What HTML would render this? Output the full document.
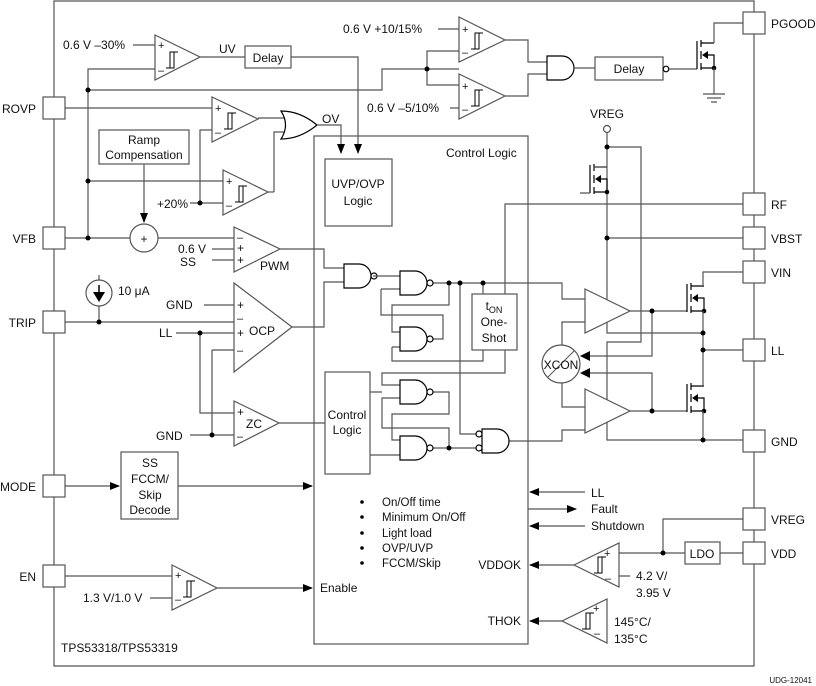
<!DOCTYPE html>
<html><head><meta charset="utf-8"><style>
html,body{margin:0;padding:0;background:#fff;}
svg{display:block;font-family:"Liberation Sans",sans-serif;font-size:12px;}
.w{stroke:#555;stroke-width:1.2;fill:none}
.g{stroke:#000;stroke-width:1.2;fill:#fff}
.b{stroke:#555;stroke-width:1.2;fill:#fff}
text{fill:#111}
</style></head><body>
<svg width="816" height="686" viewBox="0 0 816 686" xmlns="http://www.w3.org/2000/svg">
<defs>
<g id="hyst"><path d="M-6 8 H-2 V-8 H2 M-2 8 H2 V-8 H6" stroke="#000" stroke-width="1" fill="none"/></g>
<g id="hystl"><path d="M6 -8 H2 V8 H-2 M2 -8 H-2 V8 H-6" stroke="#000" stroke-width="1" fill="none"/></g>
<g id="nmos">
<path d="M0 0 V28 M4 -1 V6 M4 10 V18 M4 22 V29 M4 2 H17 M4 27 H17 M11 14 H17 V27" stroke="#000" stroke-width="1.2" fill="none"/>
<polygon points="5,14 11,10 11,18" fill="#000"/>
<circle cx="17" cy="27" r="2.3" fill="#000"/>
</g>
<g id="nand"><path d="M0 0 H15 A12 12 0 0 1 15 24 H0 Z" class="g"/><circle cx="30" cy="12" r="3" class="g"/></g>
<g id="and"><path d="M0 0 H15 A12 12 0 0 1 15 24 H0 Z" class="g"/></g>
<marker id="ar" markerWidth="10" markerHeight="8" refX="9" refY="4" orient="auto" markerUnits="userSpaceOnUse"><path d="M0 0 L10 4 L0 8 Z" fill="#000"/></marker>
</defs>

<!-- outer boundary -->
<path class="w" d="M54 1 H754 V666 H54 Z"/>

<!-- pins left -->
<rect class="b" x="43" y="97" width="22" height="22"/>
<rect class="b" x="43" y="227" width="22" height="22"/>
<rect class="b" x="43" y="311" width="22" height="22"/>
<rect class="b" x="43" y="475" width="22" height="22"/>
<rect class="b" x="43" y="565" width="22" height="22"/>
<text x="36" y="113" text-anchor="end">ROVP</text>
<text x="36" y="243" text-anchor="end">VFB</text>
<text x="36" y="327" text-anchor="end">TRIP</text>
<text x="36" y="491" text-anchor="end">MODE</text>
<text x="36" y="581" text-anchor="end">EN</text>
<!-- pins right -->
<rect class="b" x="743" y="12" width="22" height="22"/>
<rect class="b" x="743" y="193" width="22" height="22"/>
<rect class="b" x="743" y="227" width="22" height="22"/>
<rect class="b" x="743" y="261" width="22" height="22"/>
<rect class="b" x="743" y="339" width="22" height="22"/>
<rect class="b" x="743" y="430" width="22" height="22"/>
<rect class="b" x="743" y="508" width="22" height="22"/>
<rect class="b" x="743" y="542" width="22" height="22"/>
<text x="771" y="28">PGOOD</text>
<text x="771" y="209">RF</text>
<text x="771" y="243">VBST</text>
<text x="771" y="277">VIN</text>
<text x="771" y="355">LL</text>
<text x="771" y="446">GND</text>
<text x="771" y="524">VREG</text>
<text x="771" y="558">VDD</text>

<!-- Control logic box -->
<rect class="b" x="314" y="136" width="214" height="508"/>
<text x="446" y="157">Control Logic</text>
<rect class="b" x="325" y="159" width="67" height="67"/>
<text x="358" y="188" text-anchor="middle">UVP/OVP</text>
<text x="358" y="205" text-anchor="middle">Logic</text>

<!-- UV comparator -->
<path class="w" d="M133 45 H155 M88 238 V69 H155"/>
<path class="b" d="M155 35 L200 57 L155 80 Z"/>
<text x="158" y="49" font-size="11">+</text><text x="158" y="74" font-size="11">–</text>
<use href="#hyst" x="172" y="60"/>
<text x="63" y="49">0.6 V –30%</text>
<path class="w" d="M200 57 H245"/>
<text x="219" y="53">UV</text>
<rect class="b" x="245" y="46" width="46" height="22"/>
<text x="268" y="62" text-anchor="middle">Delay</text>
<path class="w" d="M291 57 H358 V153" marker-end="url(#ar)"/>

<!-- VFB rail to PGOOD comps -->
<path class="w" d="M88 90 H382 V69 H459"/>
<circle cx="88" cy="90" r="2.5"/>
<path class="w" d="M427 69 V51 H459 M427 69 V85 H459"/>
<circle cx="427" cy="69" r="2.5"/>
<path class="b" d="M459 17 L505 40 L459 62 Z"/>
<path class="b" d="M459 74 L505 96 L459 119 Z"/>
<text x="462" y="33" font-size="11">+</text><text x="462" y="56" font-size="11">–</text>
<text x="462" y="90" font-size="11">+</text><text x="462" y="113" font-size="11">–</text>
<use href="#hyst" x="477" y="41"/><use href="#hyst" x="477" y="98"/>
<path class="w" d="M438 29 H459 M450 108 H459"/>
<text x="343" y="33">0.6 V +10/15%</text>
<text x="367" y="112">0.6 V –5/10%</text>
<path class="w" d="M505 40 H528 V62 H547 M505 96 H528 V74 H547"/>
<use href="#and" x="547" y="56"/>
<path class="w" d="M574 68 H595"/>
<rect class="b" x="595" y="57" width="68" height="23"/>
<text x="629" y="73" text-anchor="middle">Delay</text>
<circle cx="666" cy="69" r="2.8" class="g"/>
<path class="w" d="M669 69 H697"/>
<use href="#nmos" x="697" y="41"/>
<path class="w" d="M714 43 V23 H743 M714 68 V94 M703 94 H725 M707 98 H721 M711 102 H717"/>

<!-- ROVP comparator -->
<path class="w" d="M65 108 H212"/>
<path class="b" d="M212 97 L258 119 L212 142 Z"/>
<text x="215" y="112" font-size="11">+</text><text x="215" y="136" font-size="11">–</text>
<use href="#hyst" x="230" y="121"/>
<path class="w" d="M200 203 V130 H212"/>
<path class="w" d="M258 118 H284 M274 192 V132 H284"/>
<path d="M281 111 Q300 111 317 125 Q300 139 281 139 Q290 125 281 111 Z" class="g"/>
<path class="w" d="M317 125 H341 V153" marker-end="url(#ar)"/>
<text x="322" y="123">OV</text>

<!-- +20% comparator -->
<path class="w" d="M88 181 H223 M190 203 H223"/>
<circle cx="88" cy="181" r="2.5"/><circle cx="200" cy="203" r="2.5"/>
<path class="b" d="M223 170 L268 192 L223 215 Z"/>
<text x="226" y="185" font-size="11">+</text><text x="226" y="209" font-size="11">–</text>
<use href="#hyst" x="241" y="194"/>
<path class="w" d="M268 192 H274"/>
<text x="157" y="208">+20%</text>

<!-- Ramp comp & summer -->
<rect class="b" x="99" y="130" width="90" height="34"/>
<text x="144" y="144" text-anchor="middle">Ramp</text>
<text x="144" y="159" text-anchor="middle">Compensation</text>
<path class="w" d="M144 164 V222" marker-end="url(#ar)"/>
<path class="w" d="M65 238 H130 M158 238 H234"/>
<circle cx="88" cy="238" r="2.5"/>
<circle cx="144" cy="238" r="14" class="b"/>
<text x="144" y="243" text-anchor="middle">+</text>

<!-- PWM -->
<path class="b" d="M234 227 L280 249 L234 272 Z"/>
<text x="237" y="241" font-size="11">–</text><text x="237" y="252" font-size="12">+</text><text x="237" y="264" font-size="12">+</text>
<path class="w" d="M212 249 H234 M212 260 H234"/>
<text x="206" y="253" text-anchor="end">0.6 V</text>
<text x="196" y="266" text-anchor="end">SS</text>
<text x="260" y="270">PWM</text>
<path class="w" d="M280 249 H324 V268 H344 M292 327 H324 V282 H344"/>
<use href="#nand" x="344" y="264"/>

<!-- 10uA source -->
<path class="w" d="M99 275 V280 M99 306 V322"/>
<circle cx="99" cy="293" r="13" class="b"/>
<path d="M99 285 V292" stroke="#000" stroke-width="1.5"/><polygon points="93,292 105,292 99,302" fill="#000"/>
<text x="118" y="295">10 μA</text>

<!-- OCP -->
<path class="w" d="M65 322 H234 M204 305 H234 M176 333 H234 M212 350 H234 M200 333 V413 H234 M212 350 V435"/>
<circle cx="99" cy="322" r="2.5"/><circle cx="200" cy="333" r="2.5"/>
<text x="166" y="309">GND</text>
<text x="159" y="337">LL</text>
<path class="b" d="M234 283 L292 327 L234 372 Z"/>
<text x="237" y="309" font-size="12">+</text><text x="237" y="322" font-size="11">–</text><text x="237" y="337">+</text><text x="237" y="354" font-size="11">–</text>
<text x="249" y="335">OCP</text>

<!-- ZC -->
<path class="w" d="M190 435 H234"/>
<circle cx="212" cy="435" r="2.5"/>
<text x="156" y="440">GND</text>
<path class="b" d="M234 401 L279 423 L234 446 Z"/>
<text x="237" y="416" font-size="12">+</text><text x="237" y="440" font-size="11">–</text>
<text x="246" y="428">ZC</text>
<path class="w" d="M279 423 H325"/>
<rect class="b" x="325" y="372" width="45" height="102"/>
<text x="347" y="419" text-anchor="middle">Control</text>
<text x="347" y="434" text-anchor="middle">Logic</text>

<!-- MODE -->
<path class="w" d="M65 486 H119" marker-end="url(#ar)"/>
<rect class="b" x="121" y="452" width="57" height="67"/>
<text x="150" y="467" text-anchor="middle">SS</text>
<text x="150" y="483" text-anchor="middle">FCCM/</text>
<text x="150" y="499" text-anchor="middle">Skip</text>
<text x="150" y="514" text-anchor="middle">Decode</text>
<path class="w" d="M178 486 H312" marker-end="url(#ar)"/>

<!-- EN -->
<path class="w" d="M65 576 H172 M150 598 H172"/>
<path class="b" d="M172 565 L217 588 L172 610 Z"/>
<text x="175" y="579" font-size="11">+</text><text x="175" y="603" font-size="11">–</text>
<use href="#hyst" x="189" y="589"/>
<text x="83" y="602">1.3 V/1.0 V</text>
<path class="w" d="M217 588 H312" marker-end="url(#ar)"/>
<text x="320" y="592">Enable</text>
<text x="61" y="652">TPS53318/TPS53319</text>

<!-- bullets -->
<g font-size="11.5">
<circle cx="362" cy="502" r="1.8"/><text x="382" y="506">On/Off time</text>
<circle cx="362" cy="517" r="1.8"/><text x="382" y="521">Minimum On/Off</text>
<circle cx="362" cy="533" r="1.8"/><text x="382" y="537">Light load</text>
<circle cx="362" cy="548" r="1.8"/><text x="382" y="552">OVP/UVP</text>
<circle cx="362" cy="563" r="1.8"/><text x="382" y="567">FCCM/Skip</text>
</g>

<!-- right of control logic signals -->
<path class="w" d="M585 492 H530" marker-end="url(#ar)"/><text x="591" y="497">LL</text>
<path class="w" d="M528 509 H576" marker-end="url(#ar)"/><text x="591" y="513">Fault</text>
<path class="w" d="M585 526 H530" marker-end="url(#ar)"/><text x="591" y="530">Shutdown</text>
<text x="521" y="569" text-anchor="end">VDDOK</text>
<path class="w" d="M574 565 H530" marker-end="url(#ar)"/>
<path class="b" d="M574 565 L619 543 L619 587 Z"/>
<text x="604" y="557" font-size="11">+</text><text x="605" y="582" font-size="11">–</text>
<use href="#hystl" x="600" y="565"/>
<path class="w" d="M619 553 H685 M720 553 H743 M663 553 V519 H743 M619 576 H630"/>
<circle cx="663" cy="553" r="2.5"/>
<rect class="b" x="685" y="542" width="35" height="22"/>
<text x="702" y="558" text-anchor="middle">LDO</text>
<text x="636" y="580">4.2 V/</text><text x="636" y="597">3.95 V</text>
<text x="521" y="625" text-anchor="end">THOK</text>
<path class="w" d="M562 621 H530" marker-end="url(#ar)"/>
<path class="b" d="M562 621 L607 599 L607 643 Z"/>
<text x="593" y="612" font-size="11">+</text><text x="594" y="637" font-size="11">–</text>
<use href="#hystl" x="588" y="621"/>
<text x="614" y="626">145°C/</text><text x="614" y="643">135°C</text>

<!-- VREG mosfet -->
<text x="607" y="118" text-anchor="middle">VREG</text>
<circle cx="607" cy="129" r="3.5" class="b"/>
<path class="w" d="M607 133 V333 H703 M607 147 H641 V342 H607 V440 H743 M607 238 H743 M743 204 H505 V294"/>
<circle cx="607" cy="147" r="2.5"/><circle cx="607" cy="238" r="2.5"/>
<use href="#nmos" x="590" y="165"/>
<path class="w" d="M590 193 H580 M594 167 H607"/>

<!-- gates -->
<path class="w" d="M373 276 H400 M381 289 H400 M381 289 V315 H443 V339 H433 M433 283 H562 V299 H585 M449 283 V305 H392 V332 H400 M392 347 H400 M392 347 V361 H483 V350 M483 283 V294 M505 350 V373 H382 V385 H400 M370 392 H382 M370 455 H400 M433 392 H449 V414 H392 V440 H400 M433 448 H476 M449 448 V428 H382 V398 H400 M460 283 V434 H476 M509 441 H562 V430 H585"/>
<use href="#nand" x="400" y="271"/>
<use href="#nand" x="400" y="327"/>
<use href="#nand" x="400" y="380"/>
<use href="#nand" x="400" y="436"/>
<circle cx="449" cy="283" r="2.5"/><circle cx="460" cy="283" r="2.5"/><circle cx="483" cy="283" r="2.5"/><circle cx="449" cy="448" r="2.5"/>
<path d="M482 429 H497 A12 12 0 0 1 497 453 H482 Z" class="g"/>
<circle cx="479" cy="434" r="3" class="g"/><circle cx="479" cy="448" r="3" class="g"/>
<rect class="b" x="472" y="294" width="45" height="56"/>
<text x="494" y="310" text-anchor="middle">t<tspan font-size="9" dy="3">ON</tspan></text>
<text x="494" y="326" text-anchor="middle">One-</text>
<text x="494" y="342" text-anchor="middle">Shot</text>

<!-- drivers -->
<path class="w" d="M562 345 V322 H585 M562 383 V407 H585"/>
<path class="b" d="M585 289 L630 311 L585 333 Z"/>
<path class="b" d="M585 389 L630 411 L585 433 Z"/>
<circle cx="561" cy="364" r="19" class="b"/>
<path d="M548 377 L574 351" stroke="#555" stroke-width="1"/>
<text x="561" y="369" text-anchor="middle">XCON</text>
<path class="w" d="M630 311 H687 M652 311 V356 H582 M630 411 H687 M652 411 V373 H582"/>
<polygon points="580,356 590,351 590,361" fill="#000"/>
<polygon points="580,373 590,368 590,378" fill="#000"/>
<circle cx="652" cy="311" r="2.5"/><circle cx="652" cy="411" r="2.5"/>
<use href="#nmos" x="687" y="284"/>
<use href="#nmos" x="687" y="384"/>
<path class="w" d="M703 286 V272 H743 M703 311 V386 M703 411 V440 M703 350 H743"/>
<circle cx="703" cy="333" r="2.5"/><circle cx="703" cy="350" r="2.5"/><circle cx="703" cy="440" r="2.5"/>

<text x="812" y="683" text-anchor="end" font-size="8">UDG-12041</text>
</svg>
</body></html>
